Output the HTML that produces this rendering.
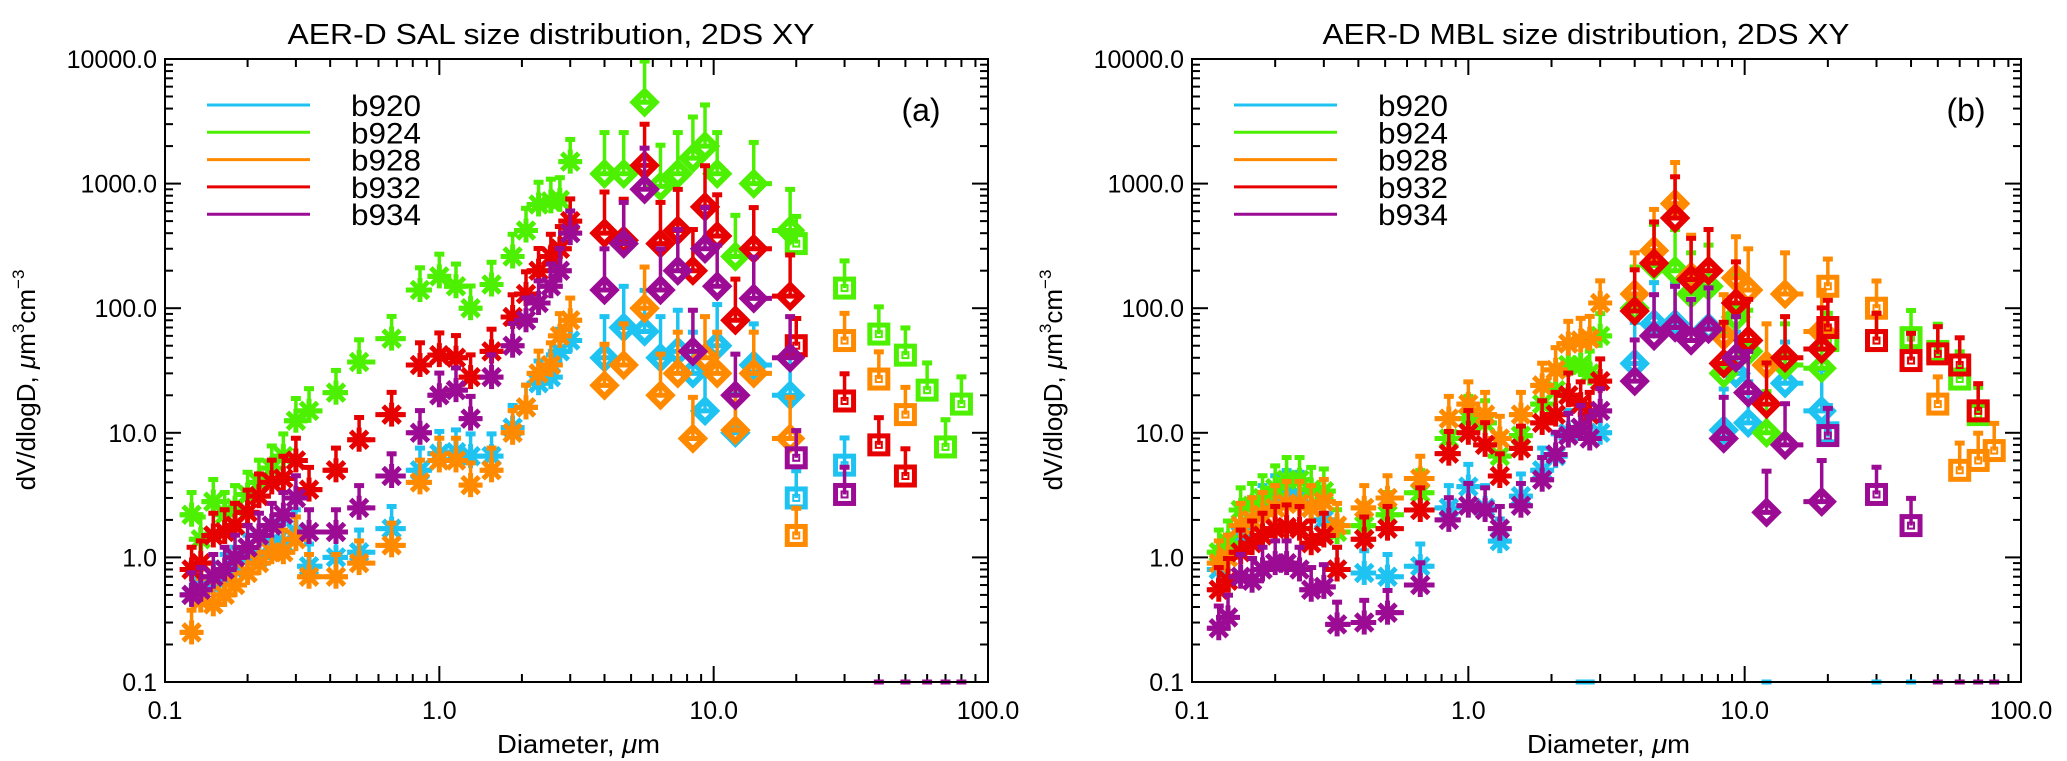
<!DOCTYPE html>
<html><head><meta charset="utf-8"><style>
html,body{margin:0;padding:0;background:#fff;}
svg{display:block;font-family:"Liberation Sans",sans-serif;}
</style></head><body>
<svg id="chart" width="2067" height="761" viewBox="0 0 2067 761" xmlns="http://www.w3.org/2000/svg"></svg>
<script>
const series = ["b920","b924","b928","b932","b934"];
const colors = ["#1ec3f2","#4cf000","#ff8a00","#e60000","#9c0b94"];
const astBins = [0.125,0.135,0.15,0.165,0.18,0.2,0.22,0.245,0.27,0.3,0.335,0.42,0.51,0.67,0.85,1.0,1.15,1.3,1.55,1.85,2.07,2.3,2.55,2.75,3.0];
const diaBins = [4.0,4.7,5.6,6.4,7.4,8.4,9.3,10.3,12,14,19];
const sqBins = [20,30,40,50,60,70,80];
const xTicks = [0.1,1,10,100];
const xTickLabels = ["0.1","1.0","10.0","100.0"];
const yTicks = [0.1,1,10,100,1000,10000];
const yTickLabels = ["0.1","1.0","10.0","100.0","1000.0","10000.0"];

const a_b920 = [0.5,0.6,0.6,0.7,0.8,1.0,1.0,1.3,1.3,1.6,0.85,1.0,1.1,1.7,5,6.8,7,6.5,6.5,11,16,25,28,45,55, 40,70,65,40,45,30,15,50,10,35,20, 3,5.5,null,null,null,null,null];
const a_b924 = [2.2,1.4,2.8,2.2,2.5,3.2,4,5.2,6.5,12.5,15,21,37,57,140,180,150,100,155,260,420,680,720,740,1500, 1200,1200,4500,950,1200,1600,2000,1200,260,1000,420, 330,145,62,42,22,7.7,17];
const a_b928 = [0.25,0.45,0.42,0.5,0.6,0.75,0.9,1.1,1.1,1.4,0.7,0.7,0.9,1.25,4,6,6,3.8,5,10,16,30,35,60,80, 24,35,100,20,30,9,40,30,10.5,30,9, 1.5,55,27,14,null,null,null];
const a_b932 = [0.8,0.9,1.5,1.6,1.8,2.3,3.1,4,4.3,6,3.5,5,8.8,14,35,42,40,28,45,85,130,200,260,300,500, 400,350,1400,330,420,200,650,380,80,300,125, 50,18,8,4.5,null,null,null];
const a_b934 = [0.5,0.55,0.7,0.8,1.0,1.2,1.5,1.8,2.2,3,1.6,1.6,2.5,4.5,10,20,22,13,28,50,80,110,150,200,400, 140,330,900,140,200,45,300,150,20,120,40, 6.3,3.2,0,0,0,0,0];

const b_b920 = [0.8,1.0,1.5,2.0,2.5,3.0,3.3,3.2,2.5,2.0,0.8,0.75,0.7,0.85,2.5,3.7,2.5,1.35,3.1,5,6.5,10,0,0,10, 36,75,75,null,70,10.5,30,12,0,25,15, 10,0,0,null,null,null,null];
const b_b924 = [1.1,1.3,2.4,2.6,3.0,3.6,4.2,4.2,3.5,3.4,1.6,1.8,2.2,3.3,9,13,12,6.5,9.5,17,22,35,35,30,60, 100,220,200,130,150,30,85,45,10,35,33, 55,55,58,45,27,14,null];
const b_b928 = [0.9,1.0,1.8,2.0,2.2,2.5,2.7,2.7,2.5,2.8,1.8,2.5,3.0,4.3,13,17,14,9,14,24,32,52,55,57,110, 130,290,690,180,200,60,175,140,35,130,65, 150,100,null,17,5,6,7.2];
const b_b932 = [0.55,0.65,1.1,1.3,1.5,1.7,1.75,1.7,1.3,1.5,0.8,1.4,1.7,2.4,6.8,10,8,4.5,7.5,12,14,20,17,14,26, 95,230,530,170,200,36,110,55,17,40,47, 70,55,38,43,35,15,null];
const b_b934 = [0.27,0.33,0.7,0.65,0.8,0.9,0.9,0.8,0.55,0.58,0.29,0.3,0.36,0.6,2,2.6,2.4,1.7,2.6,4.2,6.7,9.5,11,9,15, 26,60,70,55,68,9,40,21,2.3,8,2.8, 9.5,3.2,1.8,0,0,0,0];

const panels = [
  {id:"a", title:"AER-D SAL size distribution, 2DS XY", x0:165, x1:988, data:[a_b920,a_b924,a_b928,a_b932,a_b934], tcx:551, lab:"(a)", labx:921},
  {id:"b", title:"AER-D MBL size distribution, 2DS XY", x0:1192, x1:2021, data:[b_b920,b_b924,b_b928,b_b932,b_b934], tcx:1586, lab:"(b)", labx:1966}
];
const Y0 = 59, Y1 = 682;
const NS = "http://www.w3.org/2000/svg";
const svg = document.getElementById("chart");
function mk(tag, attrs, parent){ const e=document.createElementNS(NS,tag); for(const k in attrs) e.setAttribute(k,attrs[k]); (parent||svg).appendChild(e); return e; }
const allBins = astBins.concat(diaBins, sqBins);

panels.forEach(p=>{
  const g = mk("g",{});
  
  
  const xs = d => p.x0 + (p.x1-p.x0)*(Math.log10(d)+1)/3;
  const ys = v => Y1 - (Y1-Y0)*(Math.log10(v)+1)/5;
  const t = mk("text",{x:p.tcx,y:44,"text-anchor":"middle","font-size":29,textLength:527,lengthAdjust:"spacingAndGlyphs"},g);
  t.textContent = p.title;
  
  
  const xt = mk("g",{stroke:"#000","stroke-width":2},g);
  
  
  for(let e=-1;e<2;e++) for(let m=1;m<10;m++){
    const x = xs(m*Math.pow(10,e)); const L = m===1?16:8;
    mk("line",{x1:x,x2:x,y1:Y1,y2:Y1-L},xt); mk("line",{x1:x,x2:x,y1:Y0,y2:Y0+L},xt);
  }
  for(let e=-1;e<4;e++) for(let m=1;m<10;m++){
    const y = ys(m*Math.pow(10,e)); const L = m===1?16:8;
    mk("line",{x1:p.x0,x2:p.x0+L,y1:y,y2:y},xt); mk("line",{x1:p.x1,x2:p.x1-L,y1:y,y2:y},xt);
  }
  xTicks.forEach((v,i)=>{
    const tl = mk("text",{x:xs(v),y:719,"text-anchor":"middle","font-size":25},g);
    tl.textContent = xTickLabels[i];
    
    
  });
  yTicks.forEach((v,i)=>{
    const tl = mk("text",{x:p.x0-8,y:ys(v)+9,"text-anchor":"end","font-size":25},g);
    tl.textContent = yTickLabels[i];
    
    
  });
  const xl = mk("text",{x:(p.x0+p.x1)/2+2,y:753,"text-anchor":"middle","font-size":26,textLength:163,lengthAdjust:"spacingAndGlyphs"},g);
  xl.innerHTML = 'Diameter, <tspan font-style="italic">μ</tspan>m';
  
  
  const yl = mk("text",{x:0,y:0,"text-anchor":"middle","font-size":26,transform:`translate(${p.x0-130},380) rotate(-90)`},g);
  yl.innerHTML = 'dV/dlogD,  <tspan font-style="italic">μ</tspan>m<tspan dy="-11" font-size="17">3</tspan><tspan dy="11">cm</tspan><tspan dy="-11" font-size="17">−3</tspan>';
  
  
  const pl = mk("text",{x:p.labx,y:121,"text-anchor":"middle","font-size":32},g);
  pl.textContent = p.lab;
  
  
  series.forEach((s,i)=>{
    const le = mk("g",{},g);
    
    
    const y = 105 + i*27.3;
    mk("line",{x1:p.x0+42,x2:p.x0+145,y1:y,y2:y,stroke:colors[i],"stroke-width":3},le);
    const lt = mk("text",{x:p.x0+186,y:y+11,"font-size":30,textLength:70,lengthAdjust:"spacingAndGlyphs"},le);
    lt.textContent = s;
  });
  p.data.forEach((vals,si)=>{
    const sg = mk("g",{stroke:colors[si],fill:"none","stroke-linecap":"butt"},g);
    
    
    vals.forEach((v,i)=>{
      if(v==null) return;
      const d = allBins[i];
      const x = xs(d);
      const mg = mk("g",{},sg);
      
      
      if(v===0){ mk("line",{x1:x-5,x2:x+5,y1:Y1,y2:Y1,"stroke-width":5},mg); return; }
      const y = ys(v);
      const isAst = i < astBins.length, isDia = !isAst && i < astBins.length+diaBins.length;
      if(!(i>=astBins.length+diaBins.length)){
        const prev = (isAst ? i>0 : i>astBins.length) ? allBins[i-1] : d/1.15;
        const next = (isAst ? i<astBins.length-1 : i<astBins.length+diaBins.length-1) ? allBins[i+1] : d*1.15;
        const lx = xs(Math.sqrt(prev*d)), rx = xs(Math.sqrt(next*d));
        mk("line",{x1:Math.min(lx,x-11),x2:Math.max(rx,x+11),y1:y,y2:y,"stroke-width":5},mg);
      }
      const f = isAst ? 1.55 : (isDia ? 2.2 : 1.7);
      const ye = Math.max(Y0, ys(v*f));
      mk("line",{x1:x,x2:x,y1:y,y2:ye,"stroke-width":3.5},mg);
      mk("line",{x1:x-5,x2:x+5,y1:ye+1.5,y2:ye+1.5,"stroke-width":5},mg);
      if(isAst){
        const r=12;
        for(let k=0;k<4;k++){ const a=k*Math.PI/4; mk("line",{x1:x-r*Math.cos(a),y1:y-r*Math.sin(a),x2:x+r*Math.cos(a),y2:y+r*Math.sin(a),"stroke-width":5},mg); }
      } else if(isDia){
        const r=11;
        mk("polygon",{points:`${x},${y-r} ${x+r},${y} ${x},${y+r} ${x-r},${y}`,"stroke-width":6},mg);
      } else {
        mk("rect",{x:x-9,y:y-9,width:18,height:18,"stroke-width":5},mg);
        mk("rect",{x:x-3,y:y-3,width:6,height:6,"stroke-width":2},mg);
      }
    });
  });
  const fr = mk("rect",{x:p.x0,y:Y0,width:p.x1-p.x0,height:Y1-Y0,fill:"none",stroke:"#000","stroke-width":2},g);
  
  
});
</script>
</body></html>
